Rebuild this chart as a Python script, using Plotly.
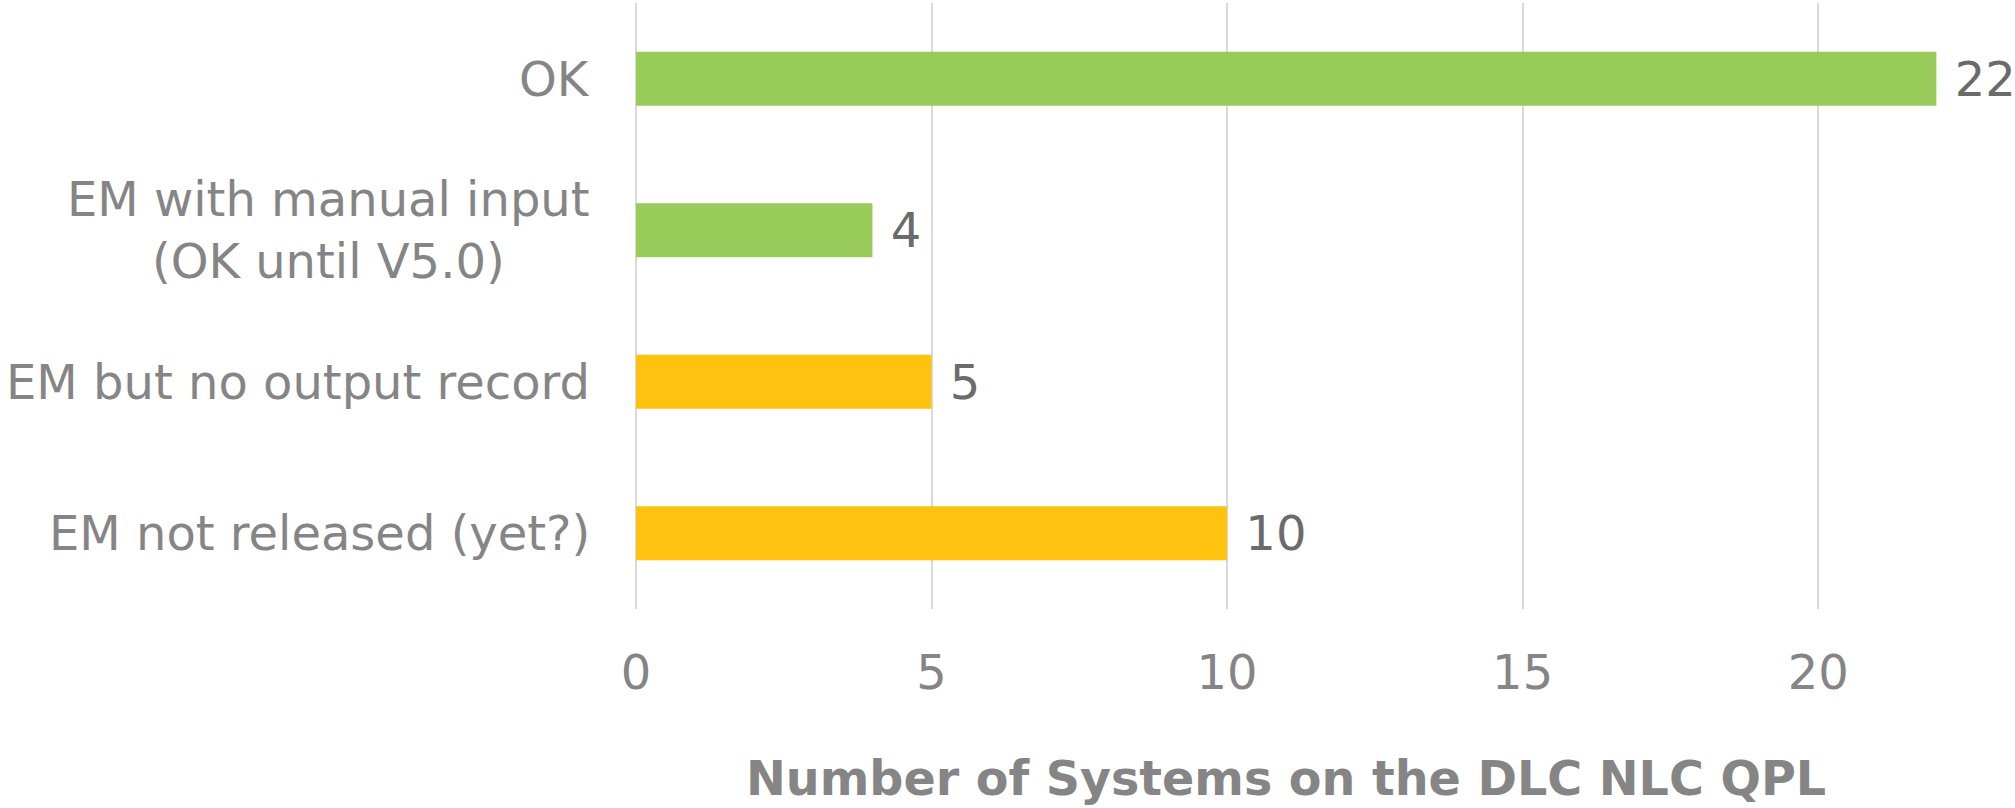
import plotly.graph_objects as go

categories = ["OK", "EM with manual input<br>(OK until V5.0)", "EM but no output record", "EM not released (yet?)"]
values = [22, 4, 5, 10]
bar_colors = ["#98CB5A", "#98CB5A", "#FEC20F", "#FEC20F"]
x_ticks = [0, 5, 10, 15, 20]
x_title = "Number of Systems on the DLC NLC QPL"

FONT = "DejaVu Sans, Verdana, sans-serif"
AXIS_GREY = "#858585"
LABEL_GREY = "#6b6b6b"

fig = go.Figure()
fig.add_trace(go.Bar(
    x=values,
    y=categories,
    orientation="h",
    marker=dict(color=bar_colors, line=dict(width=0)),
    width=0.356,
    text=["\u00a0" + str(v) for v in values],
    textposition="outside",
    textfont=dict(family=FONT, size=48, color=LABEL_GREY),
    constraintext="none",
    cliponaxis=False,
    hoverinfo="skip",
))

# category labels as annotations (centered multi-line)
for c in categories:
    fig.add_annotation(
        x=0, xref="paper", y=c, yref="y",
        text=c, showarrow=False,
        xanchor="right", yanchor="middle", align="center",
        xshift=-44,
        font=dict(family=FONT, size=48, color=AXIS_GREY),
    )

fig.add_annotation(
    x=11.0, xref="x", y=0, yref="paper", yanchor="middle",
    text="<b>" + x_title + "</b>", showarrow=False,
    font=dict(family=FONT, size=47.6, color=AXIS_GREY),
)

fig.update_layout(
    width=2015, height=808,
    margin=dict(l=636, r=0, t=3, b=199),
    plot_bgcolor="white", paper_bgcolor="white",
    showlegend=False,
    xaxis=dict(
        range=[0, 23.33],
        tickvals=x_ticks,
        showgrid=True, gridcolor="#D9D9D9", gridwidth=2,
        zeroline=True, zerolinecolor="#D9D9D9", zerolinewidth=2,
        showline=False, ticks="",
        tickfont=dict(family=FONT, size=48, color=AXIS_GREY),
        ticklabelstandoff=31,
    ),
    yaxis=dict(
        categoryorder="array", categoryarray=categories,
        range=[3.5, -0.5],
        showticklabels=False, showgrid=False, zeroline=False, showline=False, ticks="",
    ),
)

# place title annotation at its pixel row via paper coords
fig.layout.annotations[-1].y = (808 - 199 - 778) / (808 - 3 - 199)

fig.write_html(
    "out.html",
    config={"displayModeBar": False},
    post_script="document.body.style.margin='0';document.body.style.overflow='hidden';",
)
